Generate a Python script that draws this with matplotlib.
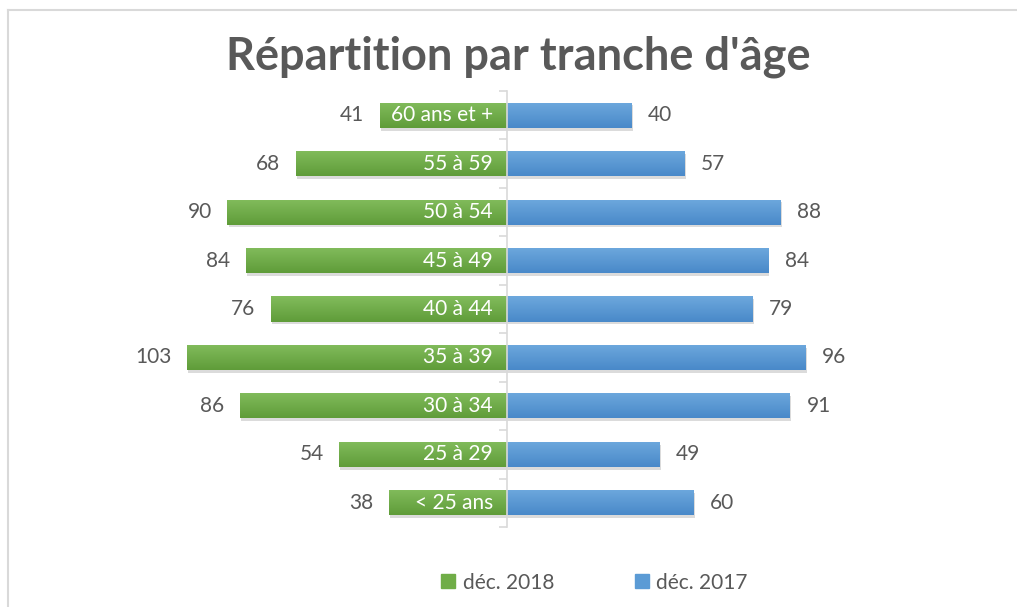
import numpy as np
import matplotlib
matplotlib.use("Agg")
import matplotlib.pyplot as plt
import matplotlib.patheffects as pe
from matplotlib.colors import LinearSegmentedColormap
from matplotlib.lines import Line2D

# données
categories = ["< 25 ans", "25 à 29", "30 à 34", "35 à 39", "40 à 44",
              "45 à 49", "50 à 54", "55 à 59", "60 ans et +"]
dec_2018 = [38, 54, 86, 103, 76, 84, 90, 68, 41]
dec_2017 = [60, 49, 91, 96, 79, 84, 88, 57, 40]
series_labels = ["déc. 2018", "déc. 2017"]

GREEN = "#70AD47"
BLUE = "#5B9BD5"
TXT = "#595959"
GRID = "#D9D9D9"

plt.rcParams["font.family"] = ["Lato", "DejaVu Sans"]


def gradient_fill(ax, bars, top, bottom):
    cmap = LinearSegmentedColormap.from_list("g", [bottom, top])
    grad = np.linspace(0, 1, 64).reshape(-1, 1)
    for b in bars:
        x0, y0 = b.get_x(), b.get_y()
        w, h = b.get_width(), b.get_height()
        im = ax.imshow(grad, cmap=cmap, aspect="auto", origin="lower",
                       extent=[min(x0, x0 + w), max(x0, x0 + w), y0, y0 + h],
                       zorder=3, interpolation="bilinear")
        im.set_clip_path(b)


def main():
    fig = plt.figure(figsize=(10.17, 6.07), dpi=100)
    ax = fig.add_axes([0.1317, 0.1318, 0.7336, 0.7183])

    y = np.arange(len(categories))
    left = -np.array(dec_2018)
    right = np.array(dec_2017)
    shadow = [pe.SimplePatchShadow(offset=(1, -2), shadow_rgbFace="k", alpha=0.14), pe.Normal()]

    b1 = ax.barh(y, left, height=0.52, color=GREEN, zorder=2, path_effects=shadow)
    b2 = ax.barh(y, right, height=0.52, color=BLUE, zorder=2, path_effects=shadow)
    gradient_fill(ax, b1, "#82BC5C", "#5F9C39")
    gradient_fill(ax, b2, "#6DA8DD", "#4989C9")

    for yi, v in zip(y, dec_2018):
        ax.annotate(str(v), (-v, yi), xytext=(-11, 0), textcoords="offset points",
                    ha="right", va="center", fontsize=15, color=TXT)
    for yi, v in zip(y, dec_2017):
        ax.annotate(str(v), (v, yi), xytext=(12, 0), textcoords="offset points",
                    ha="left", va="center", fontsize=15, color=TXT)
    for yi, c in zip(y, categories):
        ax.annotate(c, (0, yi), xytext=(-10, 0), textcoords="offset points",
                    ha="right", va="center", fontsize=15, color="white", zorder=5)

    ax.set_xlim(-120, 120)
    ax.set_ylim(-0.5, len(categories) - 0.5)
    for s in ["top", "right", "bottom"]:
        ax.spines[s].set_visible(False)
    ax.spines["left"].set_position(("data", 0))
    ax.spines["left"].set_color(GRID)
    ax.spines["left"].set_linewidth(1.2)
    ax.spines["left"].set_zorder(4)
    ax.set_xticks([])
    ax.set_yticks(np.arange(len(categories) + 1) - 0.5)
    ax.set_yticklabels([])
    ax.tick_params(axis="y", length=6, width=1.2, color=GRID, direction="out")

    fig.text(0.51, 0.907, "Répartition par tranche d'âge", ha="center", va="center",
             fontsize=32.5, fontweight="bold", color=TXT)

    handles = [Line2D([], [], marker="s", linestyle="none", markersize=10, color=GREEN),
               Line2D([], [], marker="s", linestyle="none", markersize=10, color=BLUE)]
    fig.legend(handles, series_labels, loc="center", bbox_to_anchor=(0.585, 0.04), ncol=2,
               frameon=False, fontsize=15, labelcolor=TXT, handlelength=0.6,
               handletextpad=0.4, columnspacing=3.9)

    # cadre
    fig.add_artist(Line2D([8 / 1017, 1], [1 - 9.5 / 607] * 2, color=GRID, lw=1.5))
    fig.add_artist(Line2D([8 / 1017] * 2, [0, 1 - 9.5 / 607], color=GRID, lw=1.5))

    fig.savefig("out.png", dpi=100, facecolor="white")


if __name__ == '__main__':
    main()
